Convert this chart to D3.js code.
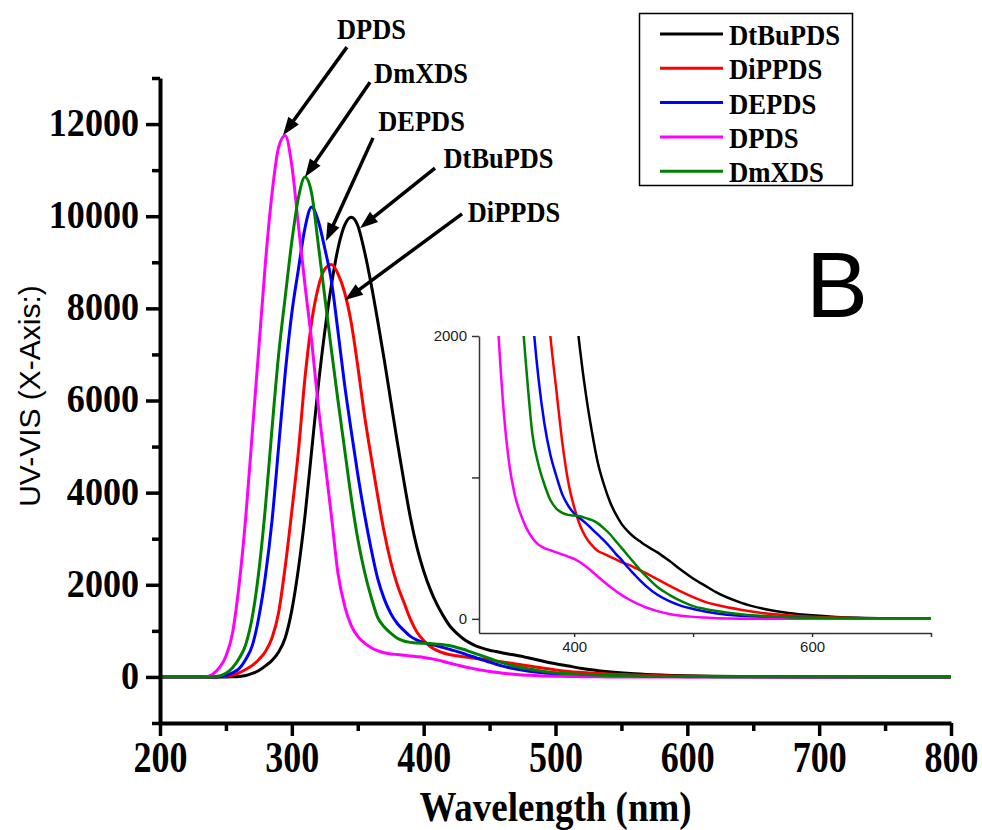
<!DOCTYPE html>
<html>
<head>
<meta charset="utf-8">
<script src="https://cdn.jsdelivr.net/npm/d3@7"></script>
<style>
  body { margin: 0; background: #fff; }
  svg { display: block; }
</style>
</head>
<body>
<div id="chart"></div>
<script>
// UV-VIS spectra

var wavelength = [200, 230, 235, 240, 245, 250, 255, 260, 265, 270, 275, 280, 285, 290, 295,
  300, 305, 310, 315, 320, 325, 330, 335, 340, 345, 350, 355, 360, 365, 370, 375, 380, 385,
  390, 395, 400, 405, 410, 415, 420, 425, 430, 435, 440, 445, 450, 455, 460, 470, 480, 490,
  500, 510, 520, 540, 560, 580, 600, 620, 640, 700, 800];

var dtbupds = [0, 0, 0, 0, 0, 0, 3, 10, 30, 75, 140, 240, 360, 540, 850,
  1450, 2350, 3500, 4900, 6300, 7500, 8500, 9300, 9800, 9980, 9800, 9250, 8550, 7750, 6900, 6000, 5100, 4250,
  3450, 2800, 2300, 1900, 1580, 1320, 1100, 950, 830, 740, 670, 620, 580, 550, 520, 470, 410, 345,
  285, 235, 185, 115, 70, 42, 25, 14, 8, 2, 0];

var dippds = [0, 0, 0, 0, 5, 15, 40, 90, 160, 250, 380, 550, 850, 1400, 2400,
  3600, 4900, 6500, 7700, 8450, 8850, 8950, 8750, 8350, 7700, 6750, 5700, 4800, 3950, 3150, 2500, 2000, 1620,
  1250, 970, 790, 660, 575, 520, 480, 460, 440, 420, 400, 385, 366, 345, 325, 280, 235, 192,
  153, 120, 98, 65, 40, 25, 15, 9, 5, 1, 0];

var depds = [0, 0, 0, 0, 5, 30, 90, 180, 380, 680, 1300, 2200, 3400, 5000, 6600,
  7900, 8850, 9750, 10200, 9900, 9300, 8600, 7500, 6350, 5350, 4400, 3550, 2800, 2150, 1700, 1380, 1160, 1010,
  880, 800, 745, 710, 675, 635, 595, 555, 510, 460, 415, 365, 320, 275, 235, 170, 125, 92,
  70, 52, 38, 22, 14, 9, 6, 4, 3, 1, 0];

var dpds = [0, 0, 5, 60, 200, 450, 950, 2000, 3450, 5300, 7150, 9000, 10500, 11500, 11750,
  11100, 9800, 8500, 7300, 5900, 4700, 3500, 2250, 1550, 1120, 880, 740, 640, 570, 525, 500, 485, 470,
  455, 440, 424, 400, 370, 335, 298, 262, 228, 197, 168, 142, 120, 100, 82, 55, 35, 22,
  14, 9, 5, 1, 0, 0, 0, 0, 0, 0, 0];

var dmxds = [0, 0, 0, 5, 20, 80, 200, 400, 700, 1300, 2300, 3700, 5400, 7000, 8250,
  9450, 10400, 10850, 10500, 9400, 8250, 7100, 6000, 4950, 3900, 3000, 2300, 1750, 1300, 1090, 950, 840, 780,
  750, 735, 730, 725, 712, 698, 675, 640, 600, 550, 500, 450, 400, 350, 305, 225, 170, 125,
  90, 70, 55, 33, 20, 12, 8, 6, 4, 2, 0];

var seriesNames  = ['DtBuPDS', 'DiPPDS', 'DEPDS', 'DPDS', 'DmXDS'];
var seriesValues = [dtbupds, dippds, depds, dpds, dmxds];
var seriesColors = ['#000000', '#ff0000', '#0000ff', '#ff00ff', '#008000'];

var xMajorTicks = [200, 300, 400, 500, 600, 700, 800];
var xMinorTicks = [250, 350, 450, 550, 650, 750];
var yMajorTicks = [0, 2000, 4000, 6000, 8000, 10000, 12000];
var yMinorTicks = [-1000, 1000, 3000, 5000, 7000, 9000, 11000, 13000];

var insetXTicks = [400, 500, 600, 700];
var insetXLabels = [400, 600];
var insetYTicks = [0, 1000, 2000];
var insetYLabels = [0, 2000];

// arrow annotations, in data units (nm, absorbance)
var annoNames = ['DPDS', 'DmXDS', 'DEPDS', 'DtBuPDS', 'DiPPDS'];
var annoTipX  = [293.3, 310, 325.9, 351.7, 340.3];
var annoTipY  = [11760, 10850, 9460, 9740, 8180];
var annoTailX = [341.8, 359.3, 361.6, 408.6, 429.1];
var annoTailY = [13670, 12910, 11700, 11045, 10050];
var annoTextX = [360.4, 398, 398.4, 456.8, 468.5];
var annoTextY = [13845, 12890, 11850, 11045, 9873];

//============================================================
// layout
//============================================================

var width  = 982,
    height = 830,
    serif  = '"Liberation Serif", "Times New Roman", serif',
    sans   = '"Liberation Sans", Arial, sans-serif';

var svg = d3.select('#chart')
  .append('svg')
  .attr('width', width)
  .attr('height', height);

svg.append('rect')
  .attr('width', width)
  .attr('height', height)
  .attr('fill', '#fff');

var x = d3.scaleLinear().domain([200, 800]).range([160, 951]);
var y = d3.scaleLinear().domain([-1000, 13000]).range([723, 78]);

// squeeze text horizontally around its anchor, the reference fonts are narrow
function condense(sel, k){
  sel.each(function(){
    var ax = +(this.getAttribute('x') || 0);
    d3.select(this).attr('transform',
      'translate(' + ax + ',0) scale(' + k + ',1) translate(' + (-ax) + ',0)');
  });
}

var points = wavelength.map(function(w, i){ return i; });

// main curves
var line = d3.line()
  .x(function(i){ return x(wavelength[i]); })
  .curve(d3.curveMonotoneX);

var curves = svg.append('g').attr('class', 'curves');
seriesValues.forEach(function(vals, s){
  line.y(function(i){ return y(vals[i]); });
  curves.append('path')
    .attr('d', line(points))
    .attr('fill', 'none')
    .attr('stroke', seriesColors[s])
    .attr('stroke-width', 3)
    .attr('stroke-linejoin', 'round');
});

// AXES
var xAxis = svg.append('g')
  .attr('transform', 'translate(0,' + y(-1000) + ')')
  .call(d3.axisBottom(x).tickValues(xMajorTicks).tickSize(13).tickSizeOuter(0).tickPadding(4).tickFormat(d3.format('d')));

svg.append('g')
  .attr('transform', 'translate(0,' + y(-1000) + ')')
  .call(d3.axisBottom(x).tickValues(xMinorTicks).tickSize(8).tickFormat(''))
  .select('.domain').remove();

var yAxis = svg.append('g')
  .attr('transform', 'translate(' + x(200) + ',0)')
  .call(d3.axisLeft(y).tickValues(yMajorTicks).tickSize(14).tickSizeOuter(0).tickPadding(7).tickFormat(d3.format('d')));

svg.append('g')
  .attr('transform', 'translate(' + x(200) + ',0)')
  .call(d3.axisLeft(y).tickValues(yMinorTicks).tickSize(8).tickFormat(''))
  .select('.domain').remove();

svg.selectAll('.domain').attr('stroke', '#000').attr('stroke-width', 4);
svg.selectAll('.tick line').attr('stroke', '#000').attr('stroke-width', 3.5);

xAxis.selectAll('text')
  .attr('fill', '#000')
  .style('font-family', serif)
  .style('font-weight', 'bold')
  .style('font-size', '45px')
  .call(condense, 0.8);

yAxis.selectAll('text')
  .attr('fill', '#000')
  .attr('dy', '0.28em')
  .style('font-family', serif)
  .style('font-weight', 'bold')
  .style('font-size', '41px')
  .call(condense, 0.88);

svg.append('text')
  .attr('x', (x(200) + x(800)) / 2)
  .attr('y', 821)
  .attr('text-anchor', 'middle')
  .style('font-family', serif)
  .style('font-weight', 'bold')
  .style('font-size', '43px')
  .text('Wavelength (nm)')
  .call(condense, 0.86);

svg.append('text')
  .attr('transform', 'translate(40,' + 396 + ') rotate(-90)')
  .attr('text-anchor', 'middle')
  .style('font-family', sans)
  .style('font-size', '30px')
  .text('UV-VIS (X-Axis:)');

// big panel letter
svg.append('text')
  .attr('x', 806)
  .attr('y', 317)
  .style('font-family', sans)
  .style('font-size', '93px')
  .text('B');

// ARROWS + LABELS
var anno = svg.append('g').attr('class', 'anno');
annoNames.forEach(function(name, i){
  var x0 = x(annoTailX[i]), y0 = y(annoTailY[i]),
      x1 = x(annoTipX[i]),  y1 = y(annoTipY[i]),
      ang = Math.atan2(y1 - y0, x1 - x0),
      headLen = 18, headW = 6.5,
      bx = x1 - headLen * Math.cos(ang),
      by = y1 - headLen * Math.sin(ang);

  anno.append('line')
    .attr('x1', x0).attr('y1', y0)
    .attr('x2', bx + 2 * Math.cos(ang)).attr('y2', by + 2 * Math.sin(ang))
    .attr('stroke', '#000')
    .attr('stroke-width', 3.5);

  anno.append('path')
    .attr('d', 'M' + x1 + ',' + y1 +
      'L' + (bx + headW * Math.sin(ang)) + ',' + (by - headW * Math.cos(ang)) +
      'L' + (bx - headW * Math.sin(ang)) + ',' + (by + headW * Math.cos(ang)) + 'Z')
    .attr('fill', '#000');

  anno.append('text')
    .attr('x', x(annoTextX[i]))
    .attr('y', y(annoTextY[i]))
    .attr('text-anchor', 'middle')
    .style('font-family', serif)
    .style('font-weight', 'bold')
    .style('font-size', '29px')
    .text(name)
    .call(condense, 0.91);
});

// LEGEND
var legend = svg.append('g').attr('class', 'legend');
legend.append('rect')
  .attr('x', 639.5).attr('y', 13.5)
  .attr('width', 213).attr('height', 172)
  .attr('fill', '#fff')
  .attr('stroke', '#000')
  .attr('stroke-width', 1.5);

seriesNames.forEach(function(name, i){
  var ly = 34 + i * 34.3;
  legend.append('line')
    .attr('x1', 660).attr('x2', 723)
    .attr('y1', ly).attr('y2', ly)
    .attr('stroke', seriesColors[i])
    .attr('stroke-width', 3);
  legend.append('text')
    .attr('x', 729)
    .attr('y', ly + 11)
    .style('font-family', serif)
    .style('font-weight', 'bold')
    .style('font-size', '30px')
    .text(name)
    .call(condense, 0.89);
});

//============================================================
// INSET, zoom on the tails
//============================================================

var ix = d3.scaleLinear().domain([320, 700]).range([479, 931]);
var iy = d3.scaleLinear().domain([-100, 2000]).range([633, 336]);

svg.append('clipPath')
  .attr('id', 'insetClip')
  .append('rect')
  .attr('x', ix(320)).attr('y', iy(2000))
  .attr('width', ix(700) - ix(320))
  .attr('height', iy(-100) - iy(2000));

var inset = svg.append('g').attr('class', 'inset');

var iline = d3.line()
  .x(function(i){ return ix(wavelength[i]); })
  .curve(d3.curveMonotoneX);

var icurves = inset.append('g').attr('clip-path', 'url(#insetClip)');
seriesValues.forEach(function(vals, s){
  iline.y(function(i){ return iy(vals[i]); });
  icurves.append('path')
    .attr('d', iline(points.filter(function(i){ return wavelength[i] >= 300 && wavelength[i] <= 700; })))
    .attr('fill', 'none')
    .attr('stroke', seriesColors[s])
    .attr('stroke-width', 2.5);
});

var ixAxis = inset.append('g')
  .attr('transform', 'translate(0,' + iy(-100) + ')')
  .call(d3.axisBottom(ix).tickValues(insetXTicks).tickSize(4).tickSizeOuter(0).tickPadding(4)
    .tickFormat(function(d){ return insetXLabels.indexOf(d) >= 0 ? d : ''; }));

var iyAxis = inset.append('g')
  .attr('transform', 'translate(' + ix(320) + ',0)')
  .call(d3.axisLeft(iy).tickValues(insetYTicks).tickSize(7).tickSizeOuter(0).tickPadding(5)
    .tickFormat(function(d){ return insetYLabels.indexOf(d) >= 0 ? d : ''; }));

inset.selectAll('.domain').attr('stroke', '#333').attr('stroke-width', 1.5);
inset.selectAll('.tick line').attr('stroke', '#333').attr('stroke-width', 1.5);
inset.selectAll('.tick text')
  .attr('fill', '#222')
  .style('font-family', sans)
  .style('font-size', '15px');
</script>
</body>
</html>
